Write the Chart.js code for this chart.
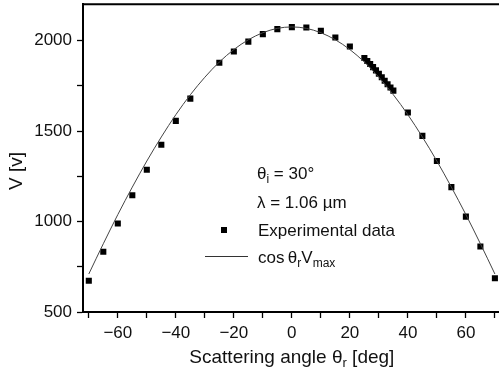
<!DOCTYPE html>
<html>
<head>
<meta charset="utf-8">
<script src="https://cdn.jsdelivr.net/npm/chart.js@4/dist/chart.umd.min.js"></script>
<style>
  html, body { margin: 0; padding: 0; background: #fff; overflow: hidden; }
  #wrap { width: 505px; height: 375px; }
</style>
</head>
<body>
<div id="wrap"><canvas id="c" width="505" height="375"></canvas></div>
<script>
// measured points (angle in deg, signal in v)
var expAngle = [-70, -65, -60, -55, -50, -45, -40, -35, -25, -20, -15, -10, -5, 0, 5, 10, 15, 20,
  25, 26, 27, 28, 29, 30, 31, 32, 33, 34, 35, 40, 45, 50, 55, 60, 65, 70];
var expV = [673, 833, 989, 1145, 1286, 1424, 1556, 1679, 1877, 1939, 1994, 2035, 2063, 2074, 2072, 2053, 2017, 1967,
  1903, 1887, 1870, 1853, 1835, 1816, 1797, 1778, 1758, 1740, 1723, 1602, 1473, 1334, 1190, 1027, 862, 686];

// cos(theta_r) * Vmax curve
var fitAngle = [-70, -65, -60, -55, -50, -45, -40, -35, -30, -25, -20, -15, -10, -5, 0,
  5, 10, 15, 20, 25, 30, 35, 40, 45, 50, 55, 60, 65, 70];
var fitV = [710, 877, 1038, 1190, 1334, 1467, 1590, 1700, 1797, 1881, 1950, 2004, 2043, 2067, 2075,
  2067, 2043, 2004, 1950, 1881, 1797, 1700, 1590, 1467, 1334, 1190, 1038, 877, 710];

// tick positions (labels only on the major ones)
var xTicks = [-70, -60, -50, -40, -30, -20, -10, 0, 10, 20, 30, 40, 50, 60, 70];
var xLabels = ['', '\u221260', '', '\u221240', '', '\u221220', '', '0', '', '20', '', '40', '', '60', ''];
var yTicks = [500, 750, 1000, 1250, 1500, 1750, 2000];
var yLabels = ['500', '', '1000', '', '1500', '', '2000'];

var xMin = -72, xMax = 72, yMin = 500, yMax = 2200;

var FONT = '"Liberation Sans", Arial, sans-serif';

function pairs(xs, ys) {
  return xs.map(function (x, i) { return { x: x, y: ys[i] }; });
}

// text with a subscript part: parts = [[text, isSub], ...]
function drawRich(ctx, parts, x, y, size, align) {
  var w = 0;
  parts.forEach(function (p) {
    ctx.font = (p[1] ? Math.round(size * 0.7) : size) + 'px ' + FONT;
    w += ctx.measureText(p[0]).width;
  });
  var cx = align === 'center' ? x - w / 2 : x;
  parts.forEach(function (p) {
    ctx.font = (p[1] ? Math.round(size * 0.7) : size) + 'px ' + FONT;
    ctx.fillText(p[0], cx, p[1] ? y + size * 0.22 : y);
    cx += ctx.measureText(p[0]).width;
  });
}

var decor = {
  id: 'decor',
  afterDraw: function (chart) {
    var ctx = chart.ctx, a = chart.chartArea;
    ctx.save();
    // top frame line
    ctx.strokeStyle = '#000';
    ctx.lineWidth = 2;
    ctx.beginPath();
    ctx.moveTo(a.left, a.top);
    ctx.lineTo(a.right, a.top);
    ctx.lineTo(a.right, a.bottom);
    ctx.stroke();

    ctx.fillStyle = '#111';
    ctx.textBaseline = 'alphabetic';
    ctx.textAlign = 'left';

    // x axis title
    drawRich(ctx, [['Scattering angle \u03B8', false], ['r', true], [' [deg]', false]],
      (a.left + a.right) / 2, 363, 19, 'center');

    // y axis title
    ctx.save();
    ctx.translate(22, 171);
    ctx.rotate(-Math.PI / 2);
    ctx.font = '19px ' + FONT;
    ctx.textAlign = 'center';
    ctx.fillText('V [v]', 0, 0);
    ctx.restore();

    // annotation and legend
    drawRich(ctx, [['\u03B8', false], ['i', true], [' = 30\u00B0', false]], 257, 179, 17, 'left');
    drawRich(ctx, [['\u03BB = 1.06 \u00B5m', false]], 257, 208, 17, 'left');
    drawRich(ctx, [['Experimental data', false]], 258, 236, 17, 'left');
    drawRich(ctx, [['cos\u2009\u03B8', false], ['r', true], ['V', false], ['max', true]], 258, 263, 17, 'left');

    ctx.fillStyle = '#000';
    ctx.fillRect(221, 227, 6, 6);
    ctx.strokeStyle = '#333';
    ctx.lineWidth = 1;
    ctx.beginPath();
    ctx.moveTo(205, 256.5);
    ctx.lineTo(248, 256.5);
    ctx.stroke();
    ctx.restore();
  }
};

function setTicks(values) {
  return function (scale) {
    scale.ticks = values.map(function (v) { return { value: v }; });
  };
}

new Chart(document.getElementById('c'), {
  type: 'scatter',
  data: {
    datasets: [
      {
        label: 'cos \u03B8r Vmax',
        data: pairs(fitAngle, fitV),
        showLine: true,
        borderColor: '#444',
        borderWidth: 1,
        pointRadius: 0,
        tension: 0.4,
        cubicInterpolationMode: 'monotone'
      },
      {
        label: 'Experimental data',
        data: pairs(expAngle, expV),
        pointStyle: 'rect',
        pointRadius: 4.3,
        backgroundColor: '#000',
        borderColor: '#000',
        borderWidth: 0
      }
    ]
  },
  plugins: [decor],
  options: {
    responsive: false,
    animation: false,
    layout: { padding: { top: 4, right: 2, left: 0, bottom: 0 } },
    plugins: { legend: { display: false }, tooltip: { enabled: false } },
    scales: {
      x: {
        type: 'linear',
        min: xMin,
        max: xMax,
        bounds: 'data',
        afterBuildTicks: setTicks(xTicks),
        afterFit: function (s) { s.height = 63; s.paddingLeft = 0; s.paddingRight = 0; },
        border: { display: true, color: '#000', width: 2 },
        grid: { drawOnChartArea: false, color: '#000', tickLength: 6, tickWidth: 1.3 },
        ticks: {
          autoSkip: false,
          maxRotation: 0,
          padding: 5,
          color: '#111',
          font: { family: FONT, size: 17 },
          callback: function (v, i) { return xLabels[i]; }
        }
      },
      y: {
        type: 'linear',
        min: yMin,
        max: yMax,
        bounds: 'data',
        afterBuildTicks: setTicks(yTicks),
        afterFit: function (s) { s.width = 83; s.paddingTop = 0; s.paddingBottom = 0; },
        border: { display: true, color: '#000', width: 2 },
        grid: { drawOnChartArea: false, color: '#000', tickLength: 6, tickWidth: 1.3 },
        ticks: {
          autoSkip: false,
          padding: 5,
          color: '#111',
          font: { family: FONT, size: 17 },
          callback: function (v, i) { return yLabels[i]; }
        }
      }
    }
  }
});
</script>
</body>
</html>
